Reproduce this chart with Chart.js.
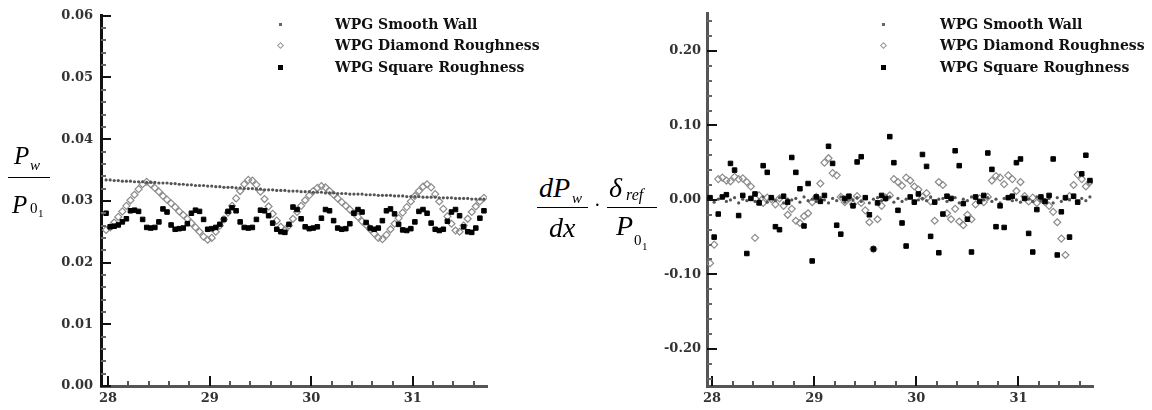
<!DOCTYPE html>
<html>
<head>
<meta charset="utf-8">
<script src="https://cdn.jsdelivr.net/npm/chart.js@4.4.0/dist/chart.umd.min.js"></script>
<style>
  body { margin: 0; background: #fff; }
  #page { position: relative; width: 1152px; height: 410px; overflow: hidden; background: #fff; }
  canvas { position: absolute; top: 0; }
  .m { position: absolute; font-family: "Liberation Serif", "Times New Roman", serif; font-style: italic; line-height: 1; color: #000; white-space: nowrap; }
  .up { font-style: normal; }
  .bar { position: absolute; height: 1px; background: #000; }
  .leg { position: absolute; font-family: "DejaVu Serif", serif; font-weight: bold; font-size: 14px; line-height: 1; color: #111; white-space: nowrap; }
  .mk { position: absolute; box-sizing: border-box; }
</style>
</head>
<body>
<div id="page">
  <canvas id="chartP" width="500" height="410" style="left:0"></canvas>
  <canvas id="chartG" width="520" height="410" style="left:600px"></canvas>

  <!-- left axis title: Pw / P01 -->
  <span class="m" style="left:14px;top:143px;font-size:25px">P</span>
  <span class="m" style="left:30px;top:158px;font-size:15px">w</span>
  <div class="bar" style="left:8px;top:177px;width:42px"></div>
  <span class="m" style="left:12px;top:192px;font-size:25px">P</span>
  <span class="m up" style="left:30px;top:201px;font-size:15px">0</span>
  <span class="m up" style="left:38px;top:208px;font-size:11px">1</span>

  <!-- right axis title: dPw/dx . delta_ref/P01 -->
  <span class="m" style="left:539px;top:174px;font-size:28px">dP</span>
  <span class="m" style="left:572px;top:191px;font-size:15px">w</span>
  <div class="bar" style="left:537px;top:207px;width:51px"></div>
  <span class="m" style="left:549px;top:214px;font-size:28px">dx</span>
  <span class="m up" style="left:594px;top:195px;font-size:20px">·</span>
  <span class="m" style="left:609px;top:174px;font-size:28px">δ</span>
  <span class="m" style="left:626px;top:187px;font-size:16px">ref</span>
  <div class="bar" style="left:607px;top:207px;width:50px"></div>
  <span class="m" style="left:616px;top:212px;font-size:28px">P</span>
  <span class="m up" style="left:634px;top:233px;font-size:15px">0</span>
  <span class="m up" style="left:642px;top:241px;font-size:11px">1</span>
</div>

<script>
// streamwise position (shared grid for every series)
const xGrid = [
  27.98, 28.02, 28.06, 28.10, 28.14, 28.18, 28.22, 28.26, 28.30, 28.34,
  28.38, 28.42, 28.46, 28.50, 28.54, 28.58, 28.62, 28.66, 28.70, 28.74,
  28.78, 28.82, 28.86, 28.90, 28.94, 28.98, 29.02, 29.06, 29.10, 29.14,
  29.18, 29.22, 29.26, 29.30, 29.34, 29.38, 29.42, 29.46, 29.50, 29.54,
  29.58, 29.62, 29.66, 29.70, 29.74, 29.78, 29.82, 29.86, 29.90, 29.94,
  29.98, 30.02, 30.06, 30.10, 30.14, 30.18, 30.22, 30.26, 30.30, 30.34,
  30.38, 30.42, 30.46, 30.50, 30.54, 30.58, 30.62, 30.66, 30.70, 30.74,
  30.78, 30.82, 30.86, 30.90, 30.94, 30.98, 31.02, 31.06, 31.10, 31.14,
  31.18, 31.22, 31.26, 31.30, 31.34, 31.38, 31.42, 31.46, 31.50, 31.54,
  31.58, 31.62, 31.66, 31.70
];

const seriesNames = ['WPG Smooth Wall', 'WPG Diamond Roughness', 'WPG Square Roughness'];

// wall pressure Pw/P01
const pSmooth = [
  0.0334, 0.0334, 0.0333, 0.0333, 0.0332, 0.0332, 0.0332, 0.0331, 0.0331, 0.0331,
  0.0330, 0.0330, 0.0330, 0.0329, 0.0329, 0.0329, 0.0328, 0.0328, 0.0327, 0.0327,
  0.0326, 0.0326, 0.0325, 0.0325, 0.0325, 0.0324, 0.0324, 0.0323, 0.0323, 0.0322,
  0.0322, 0.0322, 0.0321, 0.0321, 0.0320, 0.0320, 0.0320, 0.0319, 0.0319, 0.0318,
  0.0318, 0.0318, 0.0317, 0.0317, 0.0317, 0.0316, 0.0316, 0.0316, 0.0315, 0.0315,
  0.0315, 0.0314, 0.0314, 0.0314, 0.0313, 0.0313, 0.0313, 0.0312, 0.0312, 0.0312,
  0.0311, 0.0311, 0.0311, 0.0311, 0.0310, 0.0310, 0.0310, 0.0309, 0.0309, 0.0309,
  0.0309, 0.0308, 0.0308, 0.0308, 0.0307, 0.0307, 0.0307, 0.0307, 0.0306, 0.0306,
  0.0306, 0.0306, 0.0305, 0.0305, 0.0305, 0.0305, 0.0304, 0.0304, 0.0304, 0.0304,
  0.0303, 0.0303, 0.0303, 0.0303
];
const pDiamond = [
  0.0253, 0.0257, 0.0265, 0.0274, 0.0283, 0.0292, 0.0301, 0.0310, 0.0319, 0.0327,
  0.0331, 0.0327, 0.0321, 0.0315, 0.0308, 0.0302, 0.0296, 0.0290, 0.0283, 0.0277,
  0.0271, 0.0264, 0.0257, 0.0250, 0.0242, 0.0237, 0.0240, 0.0250, 0.0260, 0.0270,
  0.0281, 0.0292, 0.0304, 0.0316, 0.0327, 0.0334, 0.0333, 0.0326, 0.0315, 0.0303,
  0.0291, 0.0279, 0.0268, 0.0258, 0.0252, 0.0260, 0.0271, 0.0282, 0.0292, 0.0301,
  0.0309, 0.0316, 0.0321, 0.0324, 0.0322, 0.0316, 0.0310, 0.0304, 0.0298, 0.0292,
  0.0286, 0.0280, 0.0274, 0.0267, 0.0261, 0.0254, 0.0247, 0.0240, 0.0238, 0.0245,
  0.0254, 0.0263, 0.0272, 0.0281, 0.0290, 0.0299, 0.0308, 0.0316, 0.0323, 0.0327,
  0.0322, 0.0311, 0.0299, 0.0287, 0.0275, 0.0263, 0.0252, 0.0250, 0.0260, 0.0271,
  0.0282, 0.0291, 0.0299, 0.0305
];
const pSquare = [
  0.0280, 0.0258, 0.0259, 0.0261, 0.0266, 0.0271, 0.0284, 0.0285, 0.0283, 0.0270,
  0.0257, 0.0256, 0.0257, 0.0266, 0.0287, 0.0282, 0.0261, 0.0254, 0.0255, 0.0256,
  0.0263, 0.0280, 0.0285, 0.0283, 0.0270, 0.0254, 0.0255, 0.0257, 0.0262, 0.0270,
  0.0283, 0.0289, 0.0284, 0.0266, 0.0257, 0.0256, 0.0257, 0.0270, 0.0285, 0.0284,
  0.0276, 0.0264, 0.0254, 0.0250, 0.0249, 0.0262, 0.0290, 0.0286, 0.0271, 0.0258,
  0.0255, 0.0256, 0.0258, 0.0272, 0.0286, 0.0284, 0.0268, 0.0256, 0.0254, 0.0255,
  0.0263, 0.0280, 0.0286, 0.0282, 0.0265, 0.0256, 0.0254, 0.0256, 0.0268, 0.0284,
  0.0287, 0.0279, 0.0262, 0.0253, 0.0252, 0.0255, 0.0266, 0.0283, 0.0286, 0.0280,
  0.0264, 0.0254, 0.0252, 0.0254, 0.0267, 0.0282, 0.0286, 0.0276, 0.0258, 0.0250,
  0.0249, 0.0256, 0.0272, 0.0284
];

// nondimensional pressure gradient (dPw/dx)(delta_ref/P01)
const gSmooth = [
  0.002, -0.003, 0.001, 0.004, -0.002, 0.000, 0.003, -0.004, 0.001, -0.001,
  0.003, -0.002, 0.000, 0.004, -0.003, 0.002, -0.001, 0.003, -0.004, 0.001,
  0.000, 0.002, -0.003, 0.004, -0.001, 0.001, -0.002, 0.003, 0.000, -0.004,
  0.002, -0.001, 0.004, -0.003, 0.001, 0.000, 0.003, -0.002, 0.002, -0.004,
  0.001, 0.003, -0.001, 0.000, 0.004, -0.003, 0.002, -0.002, 0.001, 0.003,
  -0.004, 0.000, 0.002, -0.001, 0.004, -0.003, 0.001, 0.002, -0.002, 0.000,
  0.003, -0.004, 0.001, -0.001, 0.004, 0.002, -0.003, 0.000, 0.003, -0.002,
  0.001, -0.004, 0.002, 0.004, -0.001, 0.000, -0.003, 0.003, 0.001, -0.002,
  0.004, -0.001, 0.000, 0.002, -0.004, 0.003, -0.002, 0.001, 0.000, 0.003,
  -0.003, 0.002, -0.001, 0.004
];
const gDiamond = [
  -0.085, -0.060, 0.028, 0.030, 0.026, 0.025, 0.031, 0.028, 0.029, 0.024,
  0.018, -0.051, 0.006, -0.004, 0.003, 0.001, -0.006, 0.002, -0.008, -0.020,
  -0.012, -0.028, -0.031, -0.022, -0.018, -0.003, 0.004, 0.022, 0.050, 0.056,
  0.036, 0.033, 0.004, -0.003, 0.002, -0.006, 0.005, -0.004, -0.014, -0.030,
  -0.066, -0.026, -0.008, 0.003, 0.006, 0.028, 0.024, 0.019, 0.030, 0.026,
  0.018, 0.014, 0.004, 0.009, -0.002, -0.028, 0.024, 0.020, -0.018, -0.026,
  -0.012, -0.029, -0.034, -0.020, -0.026, -0.006, 0.002, -0.003, 0.004, 0.026,
  0.032, 0.030, 0.021, 0.033, 0.028, 0.012, 0.024, 0.005, -0.002, 0.003,
  -0.004, 0.001, -0.003, -0.008, -0.016, -0.030, -0.052, -0.074, 0.005, 0.020,
  0.034, 0.028, 0.018, 0.024
];
const gSquare = [
  0.003, -0.050, -0.019, 0.004, 0.007, 0.049, 0.040, -0.021, 0.006, -0.072,
  0.002, 0.008, -0.004, 0.046, 0.037, 0.003, -0.036, -0.040, 0.005, -0.003,
  0.057, 0.037, 0.015, -0.035, 0.022, -0.082, 0.004, -0.002, 0.006, 0.072,
  0.049, -0.034, -0.046, 0.002, 0.005, -0.008, 0.051, 0.058, 0.003, -0.020,
  -0.066, -0.004, 0.006, 0.002, 0.085, 0.050, -0.014, -0.031, -0.062, 0.004,
  -0.003, 0.008, 0.061, 0.045, -0.049, -0.003, -0.071, -0.019, 0.005, 0.002,
  0.066, 0.046, -0.005, -0.026, -0.070, 0.004, -0.002, 0.006, 0.063, 0.041,
  -0.036, -0.008, -0.037, 0.003, 0.005, 0.050, 0.055, 0.002, -0.045, -0.070,
  -0.013, 0.004, -0.002, 0.006, 0.055, -0.074, -0.016, 0.003, -0.050, 0.005,
  -0.003, 0.035, 0.060, 0.026
];

const xTicks = [28, 29, 30, 31];
const xTickLabels = ['28', '29', '30', '31'];
const pTicks = [0, 0.01, 0.02, 0.03, 0.04, 0.05, 0.06];
const pTickLabels = ['0.00', '0.01', '0.02', '0.03', '0.04', '0.05', '0.06'];
const gTicks = [-0.2, -0.1, 0, 0.1, 0.2];
const gTickLabels = ['-0.20', '-0.10', '0.00', '0.10', '0.20'];

const tickFont = { family: 'DejaVu Serif', weight: 'bold', size: 13 };

function pairs(xs, ys) {
  return xs.map((x, i) => ({ x: x, y: ys[i] }));
}

function labelFor(ticks, labels) {
  return function(v) {
    const i = ticks.findIndex(t => Math.abs(t - v) < 1e-9);
    return i >= 0 ? labels[i] : '';
  };
}

// tecplot-style ticks pointing into the plot
const insideTicks = {
  id: 'insideTicks',
  afterDraw(chart, args, o) {
    const ctx = chart.ctx;
    const a = chart.chartArea;
    const xs = chart.scales.x, ys = chart.scales.y;
    ctx.save();
    ctx.lineWidth = 2;
    function seg(x1, y1, x2, y2, c) {
      ctx.strokeStyle = c;
      ctx.beginPath();
      ctx.moveTo(x1, y1);
      ctx.lineTo(x2, y2);
      ctx.stroke();
    }
    for (let v = o.xFrom; v <= xs.max + 1e-9; v += o.xStep) {
      const px = Math.round(xs.getPixelForValue(v));
      const major = Math.abs(v - Math.round(v)) < 1e-6;
      seg(px, a.bottom, px, a.bottom - (major ? 10 : 5), major ? '#111' : '#555');
    }
    for (let k = 0; ; k++) {
      const v = o.yFrom + k * o.yStep;
      if (v > ys.max + 1e-9) break;
      const py = Math.round(ys.getPixelForValue(v));
      const major = Math.abs(v / o.yMajor - Math.round(v / o.yMajor)) < 1e-6;
      seg(a.left, py, a.left + (major ? 10 : 5), py, major ? '#111' : '#666');
    }
    ctx.restore();
  }
};

function makeDatasets(ys) {
  return [
    { label: seriesNames[2], data: pairs(xGrid, ys[2]), pointStyle: 'rect', pointRadius: 3.2,
      backgroundColor: '#000', borderColor: '#000', borderWidth: 1, order: 0 },
    { label: seriesNames[0], data: pairs(xGrid, ys[0]), pointStyle: 'circle', pointRadius: 1.6,
      backgroundColor: '#555', borderColor: '#555', borderWidth: 0, order: 1 },
    { label: seriesNames[1], data: pairs(xGrid, ys[1]), pointStyle: 'rectRot', pointRadius: 3.5,
      backgroundColor: 'rgba(255,255,255,0)', borderColor: '#8c8c8c', borderWidth: 1.2, order: 2 }
  ];
}

function makeChart(id, ys, cfg) {
  return new Chart(document.getElementById(id), {
    type: 'scatter',
    data: { datasets: makeDatasets(ys) },
    options: {
      responsive: false,
      animation: false,
      devicePixelRatio: 1,
      layout: { autoPadding: false, padding: { top: 13, right: cfg.padRight, bottom: 0, left: 0 } },
      plugins: {
        legend: { display: false },
        tooltip: { enabled: false },
        insideTicks: cfg.ticks
      },
      scales: {
        x: {
          type: 'linear', min: cfg.xMin, max: cfg.xMax,
          afterFit: s => { s.height = 24; },
          afterBuildTicks: s => { s.ticks = xTicks.map(v => ({ value: v })); },
          grid: { display: false, drawTicks: false },
          border: { display: true, color: '#555', width: 3 },
          ticks: { font: tickFont, color: '#333', padding: 5, maxRotation: 0,
                   callback: labelFor(xTicks, xTickLabels) }
        },
        y: {
          type: 'linear', min: cfg.yMin, max: cfg.yMax,
          afterFit: s => { s.width = cfg.yWidth; },
          afterBuildTicks: s => { s.ticks = cfg.yTicks.map(v => ({ value: v })); },
          grid: { display: false, drawTicks: false },
          border: { display: true, color: cfg.yBorder, width: 3 },
          ticks: { font: tickFont, color: '#333', padding: cfg.yPad,
                   callback: labelFor(cfg.yTicks, cfg.yLabels) }
        }
      }
    },
    plugins: [insideTicks]
  });
}

makeChart('chartP', [pSmooth, pDiamond, pSquare], {
  xMin: 27.93, xMax: 31.73, yMin: 0, yMax: 0.06, yTicks: pTicks, yLabels: pTickLabels,
  yWidth: 101, yPad: 8, padRight: 13, yBorder: '#111',
  ticks: { xFrom: 28, xStep: 0.2, yFrom: 0, yStep: 0.002, yMajor: 0.01 }
});

makeChart('chartG', [gSmooth, gDiamond, gSquare], {
  xMin: 27.95, xMax: 31.73, yMin: -0.25, yMax: 0.25, yTicks: gTicks, yLabels: gTickLabels,
  yWidth: 107, yPad: 6, padRight: 27, yBorder: '#555',
  ticks: { xFrom: 28, xStep: 0.2, yFrom: -0.24, yStep: 0.02, yMajor: 0.1 }
});

// legends drawn in the upper part of each plot
const page = document.getElementById('page');
const legendSpots = [{ mx: 280, tx: 335 }, { mx: 883, tx: 940 }];
const rowY = [24, 45, 67];
const markerCss = [
  'width:3px;height:3px;background:#666;',
  'width:5px;height:5px;border:1px solid #999;transform:rotate(45deg);',
  'width:5px;height:5px;background:#000;'
];
const markerSize = [3, 5, 5];
legendSpots.forEach(spot => {
  seriesNames.forEach((name, i) => {
    const mk = document.createElement('div');
    mk.className = 'mk';
    mk.style.cssText = markerCss[i] + 'left:' + (spot.mx - markerSize[i] / 2) + 'px;top:' + (rowY[i] - markerSize[i] / 2) + 'px;';
    page.appendChild(mk);
    const t = document.createElement('div');
    t.className = 'leg';
    t.textContent = name;
    t.style.left = spot.tx + 'px';
    t.style.top = (rowY[i] - 7) + 'px';
    page.appendChild(t);
  });
});
</script>
</body>
</html>
